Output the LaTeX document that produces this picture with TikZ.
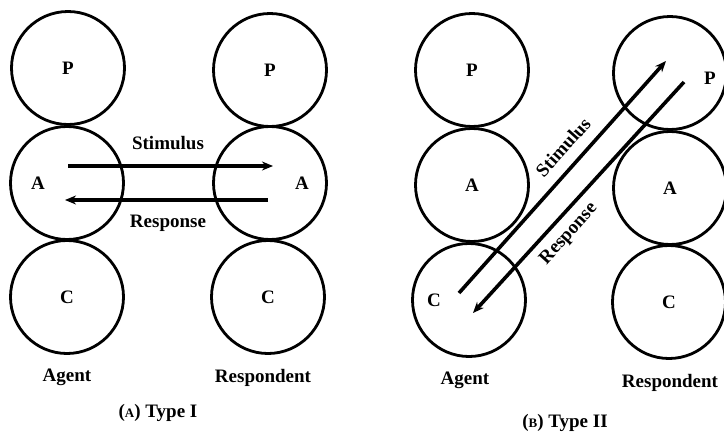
\documentclass[tikz,border=0pt]{standalone}
\usepackage{fontspec}
\setmainfont{Liberation Serif}
\usetikzlibrary{arrows.meta}
\begin{document}
\begin{tikzpicture}[x=1pt,y=-1pt,
  ego/.style={circle,draw,line width=2.8pt,minimum size=113pt,inner sep=0pt},
  lbl/.style={font=\fontsize{19}{22}\selectfont\bfseries,inner sep=1pt},
  arr/.style={line width=3.6pt,-{Stealth[length=11pt,width=9pt]}}]
\useasboundingbox (0,0) rectangle (724,434);
% ---- Type I ----
\node[ego] (aP) at (68,68) {};
\node[ego] (aA) at (67,183) {};
\node[ego] (aC) at (67,297) {};
\node[ego] (rP) at (270,70) {};
\node[ego] (rA) at (270,183) {};
\node[ego] (rC) at (268,297) {};
\node[lbl] (aPl) at (68,68) {P};
\node[lbl] (aAl) at (38,183) {A};
\node[lbl] (aCl) at (67,297) {C};
\node[lbl] (rPl) at (270,70) {P};
\node[lbl] (rAl) at (302,183) {A};
\node[lbl] (rCl) at (268,297) {C};
\coordinate (s1a) at (68,166);
\coordinate (s1b) at (273,166);
\coordinate (r1a) at (268,200);
\coordinate (r1b) at (65,200);
\draw[arr] (s1a) -- (s1b);
\draw[arr] (r1a) -- (r1b);
\node[lbl] (stim1) at (168,143) {Stimulus};
\node[lbl] (resp1) at (168,223) {Response};
\node[lbl] (ag1) at (67,377) {Agent};
\node[lbl] (re1) at (263,378) {Respondent};
\node[lbl] (cap1) at (158,413) {({\fontsize{13}{15}\selectfont A}) Type I};
% ---- Type II ----
\node[ego] (bP) at (472,70) {};
\node[ego] (bA) at (472,185) {};
\node[ego] (bC) at (469,300) {};
\node[ego] (sP) at (670,73) {};
\node[ego] (sA) at (670,188) {};
\node[ego] (sC) at (669,302) {};
\node[lbl] (bPl) at (472,70) {P};
\node[lbl] (bAl) at (472,185) {A};
\node[lbl] (bCl) at (434,300) {C};
\node[lbl] (sPl) at (710,78) {P};
\node[lbl] (sAl) at (670,188) {A};
\node[lbl] (sCl) at (669,302) {C};
\coordinate (s2a) at (459,293);
\coordinate (s2b) at (666,61);
\coordinate (r2a) at (684,82);
\coordinate (r2b) at (473,313);
\draw[arr] (s2a) -- (s2b);
\draw[arr] (r2a) -- (r2b);
\node[lbl,rotate=48] (stim2) at (563,147) {Stimulus};
\node[lbl,rotate=48] (resp2) at (569,234) {Response};
\node[lbl] (ag2) at (465,380) {Agent};
\node[lbl] (re2) at (670,383) {Respondent};
\node[lbl] (cap2) at (565,423) {({\fontsize{13}{15}\selectfont B}) Type II};
\end{tikzpicture}
\end{document}
